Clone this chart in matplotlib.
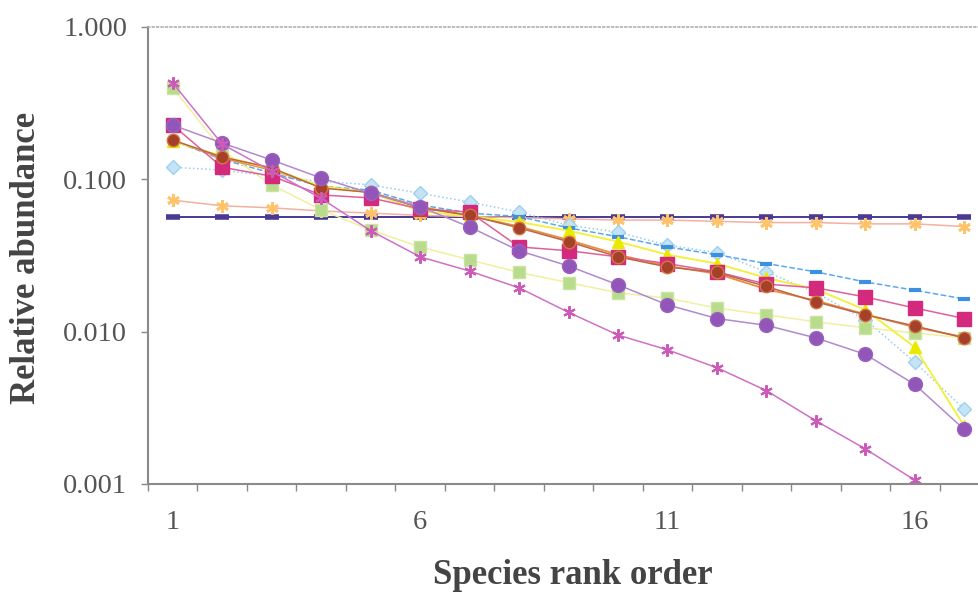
import matplotlib
matplotlib.use("Agg")
from matplotlib import pyplot as plt
from matplotlib.ticker import FixedLocator, NullLocator

# Species rank 1..17
ranks = list(range(1, 18))

# Relative abundance of each series
even = [0.057] * 17
pale_orange = [0.073, 0.067, 0.065, 0.062, 0.060, 0.058, 0.057, 0.056, 0.055,
               0.054, 0.054, 0.053, 0.052, 0.052, 0.051, 0.051, 0.049]
pink_star = [0.43, 0.17, 0.113, 0.075, 0.046, 0.031, 0.025, 0.0194, 0.0134,
             0.0095, 0.0076, 0.0058, 0.0041, 0.0026, 0.0017, 0.00106, 0.0006]
green_sq = [0.40, 0.155, 0.092, 0.063, 0.0465, 0.036, 0.0296, 0.0245, 0.021,
            0.018, 0.0166, 0.0143, 0.0129, 0.0116, 0.0106, 0.0098, 0.0091]
magenta_sq = [0.227, 0.12, 0.105, 0.079, 0.0755, 0.064, 0.061, 0.036, 0.034,
              0.031, 0.028, 0.0247, 0.0205, 0.0194, 0.0169, 0.0143, 0.0122]
purple_circ = [0.227, 0.173, 0.134, 0.102, 0.081, 0.066, 0.0487, 0.034, 0.027,
               0.0203, 0.015, 0.0122, 0.011, 0.0091, 0.0071, 0.0045, 0.00228]
cyan_diam = [0.12, 0.115, 0.105, 0.097, 0.092, 0.081, 0.071, 0.061, 0.050,
             0.045, 0.037, 0.033, 0.0247, 0.018, 0.012, 0.0063, 0.0031]
blue_dash = [0.18, 0.135, 0.11, 0.09, 0.085, 0.068, 0.060, 0.057, 0.048,
             0.042, 0.036, 0.032, 0.028, 0.0247, 0.0212, 0.0187, 0.0164]
yellow_tri = [0.178, 0.142, 0.117, 0.09, 0.082, 0.062, 0.057, 0.0525, 0.046,
              0.039, 0.032, 0.028, 0.0225, 0.019, 0.0139, 0.0079, 0.0024]
orange_line = [0.18, 0.138, 0.115, 0.09, 0.082, 0.066, 0.058, 0.049, 0.040,
               0.032, 0.027, 0.024, 0.019, 0.016, 0.013, 0.0107, 0.0092]
brown_circ = [0.181, 0.14, 0.119, 0.0877, 0.082, 0.065, 0.058, 0.048, 0.039,
              0.031, 0.0266, 0.0245, 0.0198, 0.0157, 0.0129, 0.0109, 0.0091]

x_labels = ["1", "6", "11", "16"]
y_ticks = [0.001, 0.01, 0.1, 1.0]
y_labels = ["0.001", "0.010", "0.100", "1.000"]

plt.rcParams["font.family"] = ["Liberation Serif", "DejaVu Serif"]
txt = "#555555"

fig = plt.figure(figsize=(9.79, 5.92), dpi=100)
ax = fig.add_axes([148 / 979, 108 / 592, 841 / 979, 457 / 592])

# lines and markers (drawn back to front)
ax.plot(ranks, even, color="#4a3a94", lw=1.4, marker="_", ms=10, mew=4)
ax.plot(ranks, pale_orange, color="#f4b0a0", lw=1.1, marker=(6, 2, 0), ms=9,
        mec="#ffc46a", mew=2)
ax.plot(ranks, cyan_diam, color="#9ccbf0", lw=1.1, ls=":", marker="D", ms=7,
        mfc="#c4e4f6", mec="#9fd0ee")
ax.plot(ranks, blue_dash, color="#5aa8f0", lw=1.1, ls="--", marker="_", ms=9,
        mew=3, mec="#3d90e0")
ax.plot(ranks, green_sq, color="#f0f0a0", lw=1.1, marker="s", ms=9,
        mfc="#b8dc8c", mec="#c8e4a0")
ax.plot(ranks, orange_line, color="#f08a3c", lw=1.3)
ax.plot(ranks, yellow_tri, color="#f2f040", lw=1.4, marker="^", ms=9,
        mfc="#eaea00", mec="#eaea00")
ax.plot(ranks, magenta_sq, color="#e0609a", lw=1.1, marker="s", ms=10,
        mfc="#d42a7e", mec="#d42a7e")
ax.plot(ranks, brown_circ, color="#b86848", lw=1.1, marker="o", ms=9,
        mfc="#a5402a", mec="#d07a40")
ax.plot(ranks, purple_circ, color="#b08ad0", lw=1.1, marker="o", ms=10,
        mfc="#9255b8", mec="#9a62c0")
ax.plot(ranks, pink_star, color="#d070c8", lw=1.1, marker=(6, 2, 0), ms=9,
        mec="#cc5ab8", mew=1.5)

# axes
ax.set_yscale("log")
ax.set_ylim(0.001, 1.0)
ax.set_xlim(0.5, 17.5)
ax.yaxis.set_major_locator(FixedLocator(y_ticks))
ax.yaxis.set_minor_locator(NullLocator())
ax.set_yticklabels(y_labels)
ax.set_xticks([1, 6, 11, 16])
ax.set_xticklabels(x_labels)
ax.xaxis.set_minor_locator(FixedLocator([i + 0.5 for i in range(0, 18)]))

ax.tick_params(axis="y", which="major", direction="out", length=5, width=1,
               color="#888888", labelsize=20.5, labelcolor=txt, pad=10)
ax.tick_params(axis="x", which="major", length=0, labelsize=20.5,
               labelcolor=txt, pad=19)
ax.tick_params(axis="x", which="minor", direction="out", length=5, width=1,
               color="#888888")

for side in ["left", "bottom"]:
    ax.spines[side].set_color("#8a8a8a")
    ax.spines[side].set_linewidth(1.5)
ax.spines["right"].set_visible(False)
ax.spines["top"].set_color("#b0b0b0")
ax.spines["top"].set_linestyle(":")
ax.spines["top"].set_linewidth(1.2)

ax.set_xlabel("Species rank order", fontsize=25, fontweight="bold", color="#444444")
ax.xaxis.set_label_coords((573 - 148) / 841, -(575 - 484) / 457)
ax.xaxis.label.set_va("center")
ax.set_ylabel("Relative abundance", fontsize=25, fontweight="bold", color="#444444")
ax.yaxis.set_label_coords((27 - 148) / 841, (484 - 258) / 457)
ax.yaxis.label.set_va("center")

fig.savefig("out.png", dpi=100)
